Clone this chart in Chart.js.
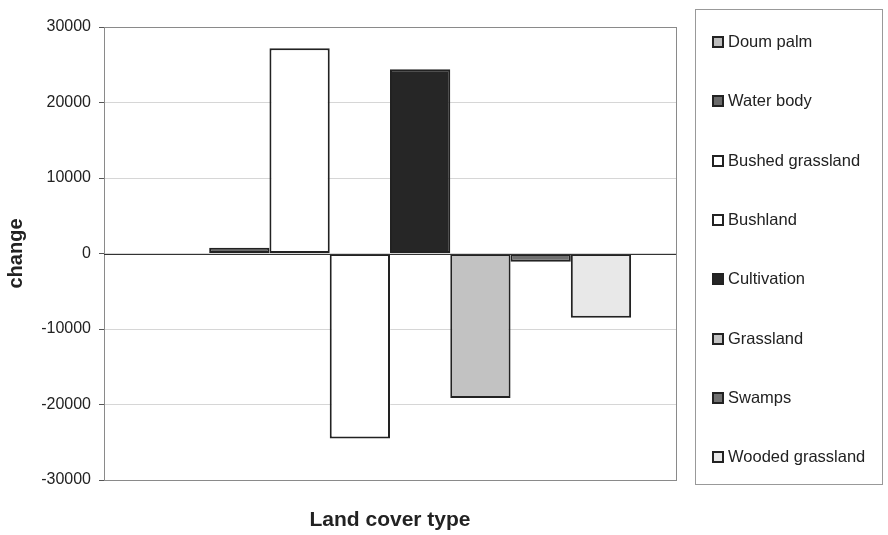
<!DOCTYPE html>
<html lang="en">
<head>
    <meta charset="UTF-8">
    <title>Land cover change</title>
    <script src="https://cdn.jsdelivr.net/npm/chart.js"></script>
    <style>
        body {
            margin: 0;
            background: #fff;
            font-family: Arial, "Liberation Sans", sans-serif;
        }
        .wrap {
            position: relative;
            width: 888px;
            height: 535px;
        }
        #legend {
            position: absolute;
            left: 695px;
            top: 9px;
            width: 188px;
            height: 476px;
            border: 1px solid #999;
            box-sizing: border-box;
        }
        .item {
            position: absolute;
            left: 16px;
            font-size: 16.5px;
            color: #222;
            white-space: nowrap;
            line-height: 20px;
        }
        .item span.box {
            display: inline-block;
            width: 8px;
            height: 8px;
            border: 2px solid #222;
            margin-right: 4px;
            vertical-align: -1px;
        }
    </style>
</head>
<body>

<div class="wrap">
    <canvas id="chart" width="888" height="535"></canvas>
    <div id="legend"></div>
</div>

<script>
    // land cover classes and their net change (ha)
    const coverTypes = ["Doum palm", "Water body", "Bushed grassland", "Bushland",
                        "Cultivation", "Grassland", "Swamps", "Wooded grassland"];
    const changeValues = [0, 750, 27200, -24500, 24400, -19150, -1100, -8500];
    const fills = ["#bdbdbd", "#6a6a6a", "#ffffff", "#ffffff",
                   "#262626", "#c2c2c2", "#707070", "#e8e8e8"];
    const yTicks = [-30000, -20000, -10000, 0, 10000, 20000, 30000];

    const datasets = coverTypes.map((name, i) => ({
        label: name,
        data: [changeValues[i]],
        backgroundColor: fills[i],
        borderColor: "#222",
        borderWidth: 2,
        borderSkipped: false
    }));

    // frame around the plot area
    const plotFrame = {
        id: "plotFrame",
        afterDraw(chart) {
            const { ctx, chartArea: a } = chart;
            ctx.save();
            ctx.strokeStyle = "#8a8a8a";
            ctx.lineWidth = 1;
            ctx.strokeRect(a.left + 0.5, a.top + 0.5, a.right - a.left, a.bottom - a.top);
            // zero line over the bars
            const y0 = Math.round(chart.scales.y.getPixelForValue(0)) + 0.5;
            ctx.strokeStyle = "#333";
            ctx.beginPath();
            ctx.moveTo(a.left, y0);
            ctx.lineTo(a.right, y0);
            ctx.stroke();
            ctx.restore();
        }
    };

    new Chart(document.getElementById("chart").getContext("2d"), {
        type: "bar",
        data: { labels: [""], datasets: datasets },
        options: {
            responsive: false,
            animation: false,
            layout: { padding: { top: 27, right: 212, bottom: 0, left: 0 } },
            datasets: {
                bar: { categoryPercentage: 0.843, barPercentage: 1 }
            },
            plugins: {
                legend: { display: false },
                tooltip: { enabled: false }
            },
            scales: {
                x: {
                    grid: { display: false },
                    border: { color: "#8a8a8a" },
                    ticks: { display: false },
                    title: {
                        display: true,
                        text: "Land cover type",
                        color: "#222",
                        font: { family: "Arial", size: 21, weight: "bold" },
                        padding: { top: 0, bottom: 2 }
                    },
                    afterFit(scale) { scale.height = 55; }
                },
                y: {
                    min: -30000,
                    max: 30000,
                    afterBuildTicks(scale) {
                        scale.ticks = yTicks.map(v => ({ value: v }));
                    },
                    grid: {
                        color: "#d6d6d6",
                        tickColor: "#555",
                        tickLength: 5
                    },
                    border: { color: "#555" },
                    ticks: {
                        color: "#222",
                        padding: 8,
                        font: { family: "Arial", size: 16 },
                        callback: v => String(v)
                    },
                    title: {
                        display: true,
                        text: "change",
                        color: "#222",
                        font: { family: "Arial", size: 20, weight: "bold" },
                        padding: { top: 4, bottom: 0 }
                    },
                    afterFit(scale) { scale.width = 104; }
                }
            }
        },
        plugins: [plotFrame]
    });

    // legend entries built from the same class list
    const legend = document.getElementById("legend");
    coverTypes.forEach((name, i) => {
        const row = document.createElement("div");
        row.className = "item";
        row.style.top = (21 + i * 59.3) + "px";
        row.innerHTML = `<span class="box" style="background:${fills[i]}"></span>${name}`;
        legend.appendChild(row);
    });
</script>

</body>
</html>
